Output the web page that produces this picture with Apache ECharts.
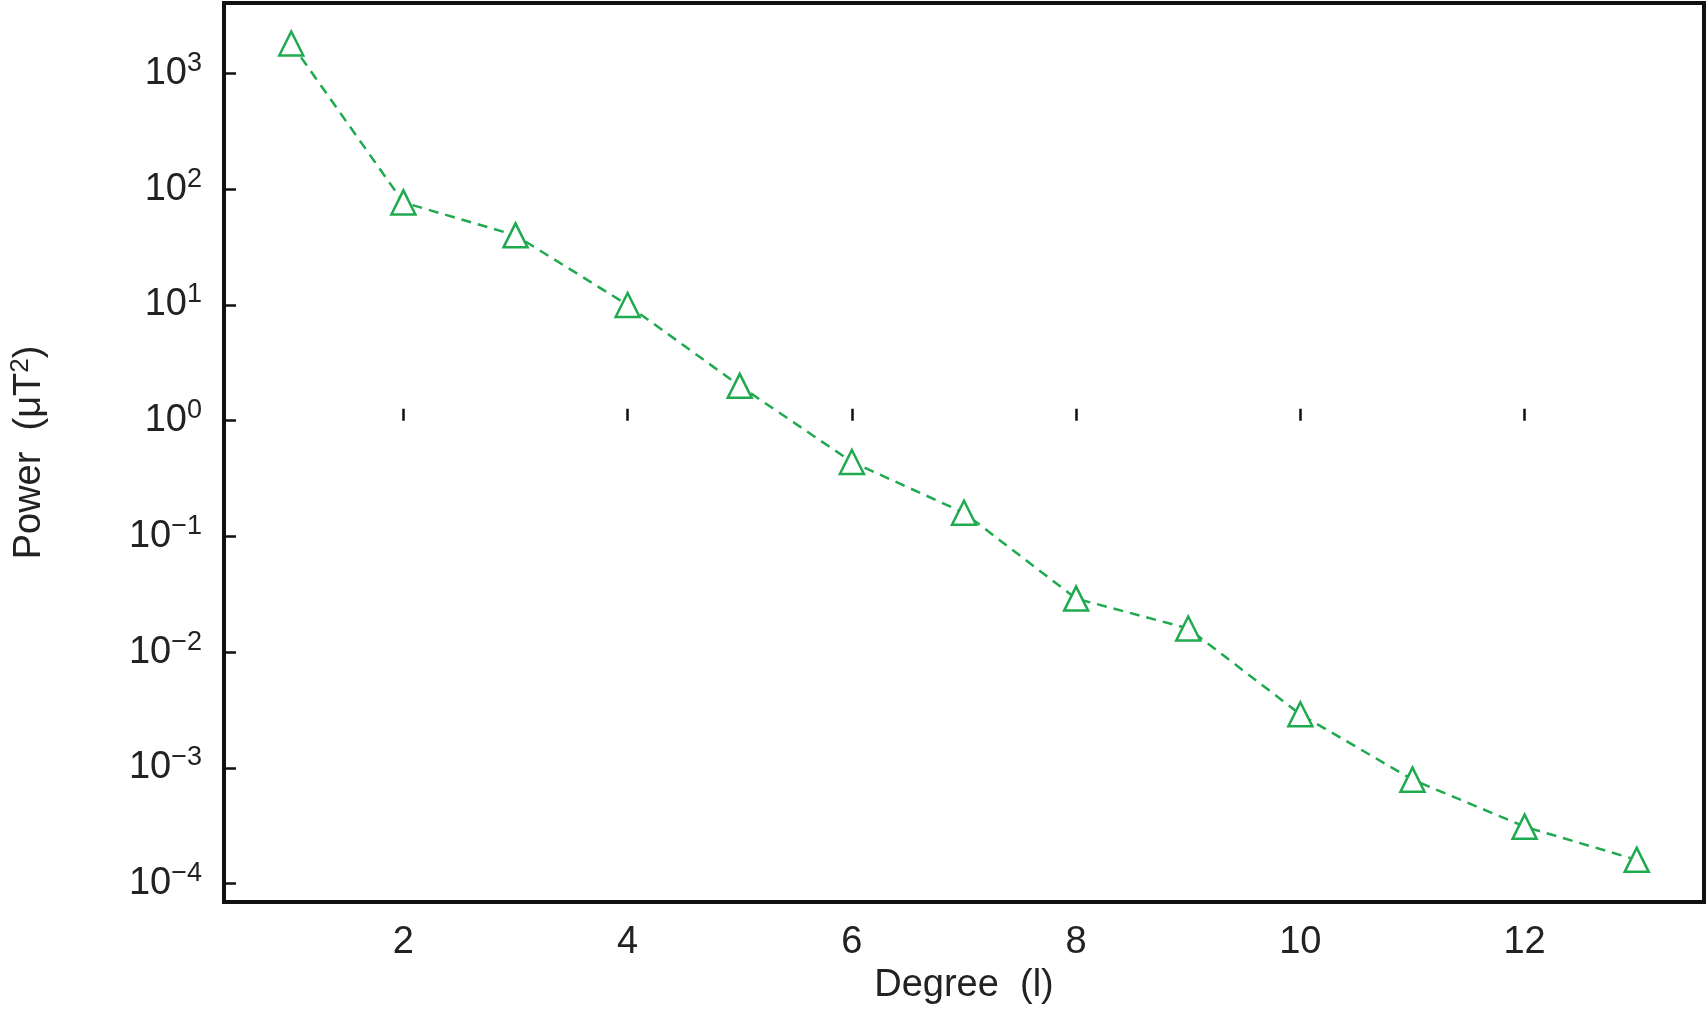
<!DOCTYPE html>
<html><head><meta charset="utf-8">
<script src="https://cdn.jsdelivr.net/npm/echarts@6/dist/echarts.min.js"></script>
<style>html,body{margin:0;padding:0;background:#fff}#c{width:1708px;height:1035px}</style>
</head><body><div id="c"></div>
<script>
const degrees = [1,2,3,4,5,6,7,8,9,10,11,12,13];
const power = [1820,77,40,10,2.0,0.44,0.16,0.029,0.016,0.0029,0.00079,0.00031,0.00016];
const xTicks = [2,4,6,8,10,12];
const yExponents = [-4,-3,-2,-1,0,1,2,3];
const green = '#1faa4f';
const font = 'Liberation Sans';
const chart = echarts.init(document.getElementById('c'));
chart.setOption({
  animation:false,
  grid:{left:203,right:4,top:3,bottom:133,show:true,borderColor:'#111',borderWidth:4,backgroundColor:'transparent'},
  xAxis:{type:'value',min:0.4,max:13.6,
    name:'Degree  (l)',nameLocation:'middle',nameGap:62,
    nameTextStyle:{fontSize:38,color:'#222',fontFamily:font},
    axisLine:{show:false},splitLine:{show:false},
    axisTick:{inside:true,length:12,lineStyle:{color:'#111',width:2.5},customValues:xTicks},
    axisLabel:{fontSize:38,color:'#222',fontFamily:font,margin:22,customValues:xTicks}},
  yAxis:{type:'value',min:-4.16,max:3.61,
    name:'Power  (μT{s|2})',nameLocation:'middle',nameGap:172,
    nameTextStyle:{fontSize:38,color:'#222',fontFamily:font,rich:{s:{fontSize:26,padding:[0,0,18,0],color:'#222',fontFamily:font}}},
    axisLine:{show:false},splitLine:{show:false},
    axisTick:{inside:true,length:12,lineStyle:{color:'#111',width:2.5},customValues:yExponents},
    axisLabel:{color:'#222',margin:22,customValues:yExponents,
      formatter:v=>'{b|10}{s|'+(v<0?'−'+(-v):v)+'}',
      rich:{b:{fontSize:38,fontFamily:font,color:'#222'},s:{fontSize:27,fontFamily:font,color:'#222',padding:[0,0,20,0]}}}},
  series:[{type:'line',data:degrees.map((d,i)=>[d,Math.log10(power[i])]),
    lineStyle:{color:green,width:2.5,type:[10,7]},
    symbol:'triangle',symbolSize:24,
    itemStyle:{color:'#fff',borderColor:green,borderWidth:2.5}}]
});
</script></body></html>
